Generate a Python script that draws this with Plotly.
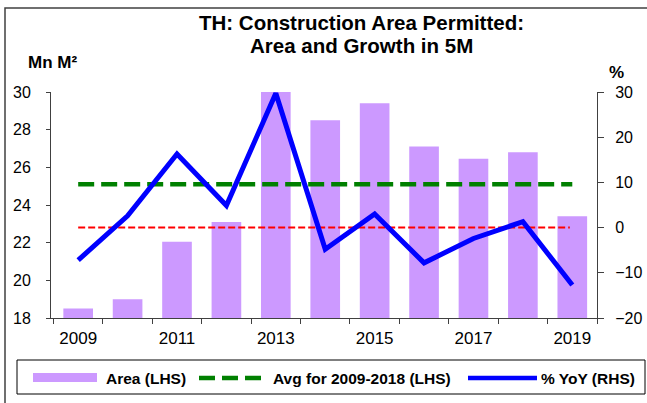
import plotly.graph_objects as go

# ---------------- data ----------------
YEARS = [2009, 2010, 2011, 2012, 2013, 2014, 2015, 2016, 2017, 2018, 2019]
AREA_LHS = [18.5, 19.0, 22.05, 23.1, 30.0, 28.5, 29.4, 27.1, 26.45, 26.8, 23.4]
YOY_RHS = [-7.2, 2.6, 16.3, 4.9, 29.7, -4.8, 3.0, -7.8, -2.4, 1.3, -12.7]
AVG_2009_2018 = 25.1
ZERO_REF = 0.0
XTICK_YEARS = [2009, 2011, 2013, 2015, 2017, 2019]
LEFT_TICKS = [18, 20, 22, 24, 26, 28, 30]
RIGHT_TICKS = [-20, -10, 0, 10, 20, 30]
TITLE_LINES = ["TH: Construction Area Permitted:", "Area and Growth in 5M"]

FONT = "Liberation Sans, Arial, sans-serif"
W, H = 647, 403
L, R, T, B = 51, 50, 92, 85
PW, PH = W - L - R, H - T - B


def px(x):
    return (x - L) / PW


def py(y):
    return (H - B - y) / PH


fig = go.Figure()

fig.add_trace(go.Bar(
    x=YEARS, y=AREA_LHS, name="Area (LHS)", width=0.6,
    marker=dict(color="#CC99FF", line=dict(width=0)),
    yaxis="y", showlegend=False,
))
fig.add_trace(go.Scatter(
    x=[YEARS[0], YEARS[-1]], y=[AVG_2009_2018, AVG_2009_2018],
    name="Avg for 2009-2018 (LHS)", mode="lines",
    line=dict(color="#008000", width=4.5, dash="16px,7px"),
    yaxis="y", showlegend=False,
))
fig.add_trace(go.Scatter(
    x=[YEARS[0], YEARS[-1] - 0.05], y=[ZERO_REF, ZERO_REF],
    name="0 line", mode="lines",
    line=dict(color="#FF0000", width=2, dash="7px,3px"),
    yaxis="y2", showlegend=False,
))
fig.add_trace(go.Scatter(
    x=YEARS, y=YOY_RHS, name="% YoY (RHS)", mode="lines",
    line=dict(color="#0000FF", width=5),
    yaxis="y2", showlegend=False,
))

axis_col = "#404040"
fig.update_layout(
    width=W, height=H,
    margin=dict(l=L, r=R, t=T, b=B, autoexpand=False),
    paper_bgcolor="white", plot_bgcolor="white",
    font=dict(family=FONT, color="black"),
    showlegend=False,
    hovermode=False,
    xaxis=dict(
        range=[YEARS[0] - 0.55, YEARS[-1] + 0.5],
        tickmode="array", tickvals=XTICK_YEARS,
        ticktext=[str(v) for v in XTICK_YEARS],
        ticks="", showgrid=False, zeroline=False,
        showline=True, linecolor=axis_col, linewidth=1,
        tickfont=dict(size=17, family=FONT, color="black"),
        ticklabelstandoff=5, automargin=False,
        minor=dict(tickmode="linear", tick0=YEARS[0] - 0.5, dtick=1,
                   ticks="outside", ticklen=5, tickcolor=axis_col, tickwidth=1,
                   showgrid=False),
    ),
    yaxis=dict(
        range=[18, 30], tickmode="array", tickvals=LEFT_TICKS,
        ticks="outside", ticklen=4, tickcolor=axis_col,
        showgrid=False, zeroline=False,
        showline=True, linecolor=axis_col, linewidth=1,
        tickfont=dict(size=16, family=FONT, color="black"),
        ticklabelstandoff=12, automargin=False,
    ),
    yaxis2=dict(
        range=[-20, 30], tickmode="array", tickvals=RIGHT_TICKS,
        overlaying="y", side="right",
        ticks="outside", ticklen=6, tickcolor=axis_col,
        showgrid=False, zeroline=False,
        showline=True, linecolor=axis_col, linewidth=1,
        tickfont=dict(size=16, family=FONT, color="black"),
        ticklabelstandoff=8, automargin=False,
    ),
)

shapes = []
annotations = []

# outer frame
shapes.append(dict(type="rect", xref="paper", yref="paper",
                   x0=px(5), x1=px(652), y0=py(410), y1=py(8),
                   line=dict(color="#404040", width=1.5), fillcolor="rgba(0,0,0,0)",
                   layer="below"))

# title (two centred lines)
for line, yc in zip(TITLE_LINES, [22.5, 45.5]):
    annotations.append(dict(text=f"<b>{line}</b>", xref="paper", yref="paper",
                            x=px(361), y=py(yc), xanchor="center", yanchor="middle",
                            showarrow=False, font=dict(size=20.5, family=FONT, color="black")))

# axis unit labels
annotations.append(dict(text="<b>Mn M²</b>", xref="paper", yref="paper",
                        x=px(52), y=py(62), xanchor="center", yanchor="middle",
                        showarrow=False, font=dict(size=17, family=FONT, color="black")))
annotations.append(dict(text="<b>%</b>", xref="paper", yref="paper",
                        x=px(616), y=py(72), xanchor="center", yanchor="middle",
                        showarrow=False, font=dict(size=17, family=FONT, color="black")))

# manual legend
LEG_Y = 378
shapes.append(dict(type="rect", xref="paper", yref="paper",
                   x0=px(17), x1=px(645), y0=py(394), y1=py(360),
                   line=dict(color="black", width=1), fillcolor="white"))
shapes.append(dict(type="rect", xref="paper", yref="paper",
                   x0=px(33), x1=px(97), y0=py(382), y1=py(373),
                   line=dict(width=0), fillcolor="#CC99FF"))
shapes.append(dict(type="line", xref="paper", yref="paper",
                   x0=px(199), x1=px(267), y0=py(LEG_Y), y1=py(LEG_Y),
                   line=dict(color="#008000", width=4.5, dash="16px,7px")))
shapes.append(dict(type="line", xref="paper", yref="paper",
                   x0=px(468), x1=px(537), y0=py(LEG_Y), y1=py(LEG_Y),
                   line=dict(color="#0000FF", width=4.5)))
for label, x0 in [("Area (LHS)", 104), ("Avg for 2009-2018 (LHS)", 271), ("% YoY (RHS)", 539)]:
    annotations.append(dict(text=f"<b>{label}</b>", xref="paper", yref="paper",
                            x=px(x0), y=py(LEG_Y), xanchor="left", yanchor="middle",
                            showarrow=False, font=dict(size=15.5, family=FONT, color="black")))

fig.update_layout(shapes=shapes, annotations=annotations)

fig.write_html("out.html", config={"displayModeBar": False},
               post_script="document.body.style.margin='0';")
